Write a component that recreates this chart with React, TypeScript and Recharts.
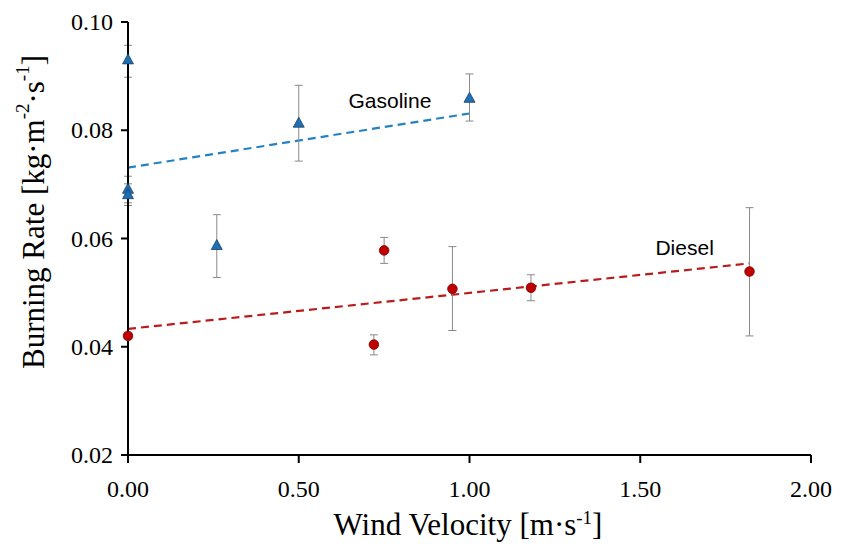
import { ComposedChart, Scatter, Line, XAxis, YAxis, ErrorBar, ReferenceDot } from "recharts";

// gasoline measurements, err = [minus, plus]
const gasoline = [
  { x: 0, y: 0.093, err: [0.0032, 0.0027] },
  { x: 0, y: 0.0691, err: [0.0025, 0.0024] },
  { x: 0, y: 0.0681, err: [0.002, 0.002] },
  { x: 0.26, y: 0.0587, err: [0.0059, 0.0057] },
  { x: 0.5, y: 0.0813, err: [0.007, 0.007] },
  { x: 1.0, y: 0.0859, err: [0.0042, 0.0045] },
];

const diesel = [
  { x: 0, y: 0.042, err: [0.0005, 0.0005] },
  { x: 0.72, y: 0.0404, err: [0.0019, 0.0018] },
  { x: 0.75, y: 0.0578, err: [0.0024, 0.0024] },
  { x: 0.95, y: 0.0507, err: [0.0077, 0.0078] },
  { x: 1.18, y: 0.0509, err: [0.0024, 0.0024] },
  { x: 1.82, y: 0.0539, err: [0.0119, 0.0118] },
];

const gasolineTrend = [
  { x: 0, y: 0.0731 },
  { x: 1.0, y: 0.0831 },
];

const dieselTrend = [
  { x: 0, y: 0.0433 },
  { x: 1.82, y: 0.0554 },
];

const xTicks = [0, 0.5, 1, 1.5, 2];
const yTicks = [0.02, 0.04, 0.06, 0.08, 0.1];

const seriesLabels = [
  { text: "Gasoline", x: 0.767, y: 0.0855 },
  { text: "Diesel", x: 1.63, y: 0.0583 },
];

const serif = "'Liberation Serif', 'Times New Roman', serif";
const sans = "'Liberation Sans', Arial, sans-serif";

const Triangle = (props: any) => {
  const { cx, cy } = props;
  if (cx == null || cy == null) return null;
  return (
    <polygon
      points={`${cx},${cy - 6} ${cx + 5.5},${cy + 4} ${cx - 5.5},${cy + 4}`}
      fill="#1f6fb2"
      stroke="#1b3f6b"
      strokeWidth={0.8}
    />
  );
};

const Dot = (props: any) => {
  const { cx, cy } = props;
  if (cx == null || cy == null) return null;
  return <circle cx={cx} cy={cy} r={4.8} fill="#c00000" stroke="#7a0000" strokeWidth={0.8} />;
};

const XTick = (props: any) => {
  const { x, y, payload } = props;
  return (
    <text x={x} y={y + 17} textAnchor="middle" fontFamily={serif} fontSize={24} fill="#000">
      {payload.value.toFixed(2)}
    </text>
  );
};

const YTick = (props: any) => {
  const { x, y, payload } = props;
  return (
    <text x={x} y={y + 8} textAnchor="end" fontFamily={serif} fontSize={24} fill="#000">
      {payload.value.toFixed(2)}
    </text>
  );
};

const YTitle = () => (
  <text
    x={33}
    y={212}
    transform="rotate(-90, 33, 212)"
    textAnchor="middle"
    dominantBaseline="central"
    fontFamily={serif}
    fontSize={31}
    fill="#000"
  >
    Burning Rate [kg·m
    <tspan dy={-11} fontSize={19}>-2</tspan>
    <tspan dy={11}>·s</tspan>
    <tspan dy={-11} fontSize={19}>-1</tspan>
    <tspan dy={11}>]</tspan>
  </text>
);

const XTitle = () => (
  <text x={468} y={535} textAnchor="middle" fontFamily={serif} fontSize={31} fill="#000">
    Wind Velocity [m·s
    <tspan dy={-11} fontSize={19}>-1</tspan>
    <tspan dy={11}>]</tspan>
  </text>
);

export default function App() {
  return (
    <div
      style={{
        position: "absolute",
        left: 0,
        top: 0,
        width: 841,
        height: 546,
        background: "#fff",
        fontFamily: serif,
      }}
    >
      <ComposedChart width={841} height={546} margin={{ top: 22, right: 30, left: 0, bottom: 0 }}>
        <XAxis
          dataKey="x"
          type="number"
          domain={[0, 2]}
          ticks={xTicks}
          height={91}
          axisLine={{ stroke: "#000", strokeWidth: 2 }}
          tickLine={{ stroke: "#000", strokeWidth: 2 }}
          tickSize={8}
          tickMargin={17}
          tick={<XTick />}
          label={{ content: () => <XTitle /> }}
        />
        <XAxis
          xAxisId="top"
          orientation="top"
          type="number"
          domain={[0, 2]}
          height={0}
          tick={false}
          tickLine={false}
          axisLine={{ stroke: "#000", strokeWidth: 2 }}
        />
        <YAxis
          dataKey="y"
          type="number"
          domain={[0.02, 0.1]}
          ticks={yTicks}
          width={128}
          axisLine={{ stroke: "#000", strokeWidth: 2 }}
          tickLine={{ stroke: "#000", strokeWidth: 2 }}
          tickSize={7}
          tickMargin={8}
          tick={<YTick />}
          label={{ content: () => <YTitle /> }}
        />
        <YAxis
          yAxisId="right"
          orientation="right"
          type="number"
          domain={[0.02, 0.1]}
          width={0}
          tick={false}
          tickLine={false}
          axisLine={{ stroke: "#000", strokeWidth: 2 }}
        />
        <Line
          data={gasolineTrend}
          dataKey="y"
          stroke="#2382c4"
          strokeWidth={2.2}
          strokeDasharray="8 5"
          dot={false}
          activeDot={false}
          isAnimationActive={false}
        />
        <Line
          data={dieselTrend}
          dataKey="y"
          stroke="#b81c1c"
          strokeWidth={2.2}
          strokeDasharray="8 5"
          dot={false}
          activeDot={false}
          isAnimationActive={false}
        />
        <Scatter data={gasoline} dataKey="y" shape={<Triangle />} isAnimationActive={false}>
          <ErrorBar dataKey="err" direction="y" width={4} stroke="#8a8a8a" strokeWidth={1} />
        </Scatter>
        <Scatter data={diesel} dataKey="y" shape={<Dot />} isAnimationActive={false}>
          <ErrorBar dataKey="err" direction="y" width={4} stroke="#8a8a8a" strokeWidth={1} />
        </Scatter>
        {seriesLabels.map((l) => (
          <ReferenceDot
            key={l.text}
            x={l.x}
            y={l.y}
            r={0}
            fill="none"
            stroke="none"
            label={{ value: l.text, position: "center", fontSize: 21, fontFamily: sans, fill: "#000" }}
          />
        ))}
      </ComposedChart>
    </div>
  );
}
